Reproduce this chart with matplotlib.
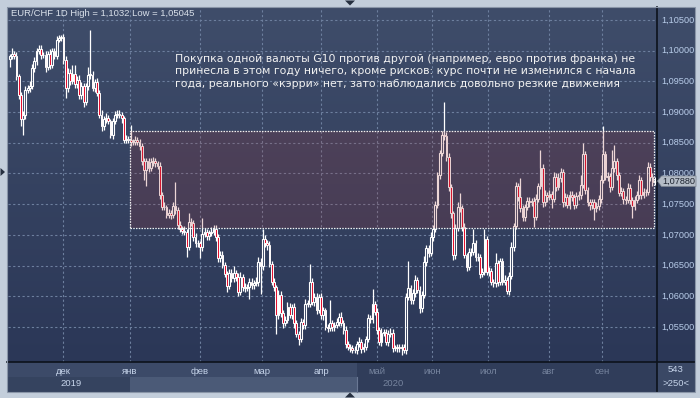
import numpy as np
import matplotlib
matplotlib.use('Agg')
import matplotlib.pyplot as plt
from matplotlib.patches import Rectangle, Polygon
from matplotlib.transforms import blended_transform_factory

W, H = 700, 398

# дневные свечи EUR/CHF (закрытия)
first_open = 1.0986
closes = [
    # ноябрь - январь
    1.0991, 1.0995, 1.0992, 1.0958, 1.0928, 1.0888, 1.0895, 1.0936, 1.0939, 1.0942,
    1.0972, 1.0983, 1.0999, 1.1002, 1.0993, 1.0993, 1.0974, 1.0995, 1.0977, 1.0999,
    1.0992, 1.1018, 1.1021, 1.1022, 1.0985, 1.0939, 1.0964, 1.0951, 1.0962, 1.0945,
    1.0953, 1.0928, 1.0942, 1.0917, 1.0942, 1.0961, 1.0961, 1.0939, 1.0949,
    1.0931, 1.0896, 1.0877, 1.0888, 1.0890, 1.0885, 1.0863, 1.0885,
    1.0896, 1.0897, 1.0895, 1.0890, 1.0855, 1.0857, 1.0854, 1.0851, 1.0852,
    1.0855, 1.0851, 1.0844, 1.0821, 1.0805, 1.0820, 1.0809, 1.0819, 1.0821, 1.0817,
    1.0812, 1.0765, 1.0746, 1.0745, 1.0733, 1.0736, 1.0732,
    # январь - апрель
    1.0747, 1.0740, 1.0716, 1.0709, 1.0707, 1.0705, 1.0681, 1.0721, 1.0720, 1.0697,
    1.0686, 1.0686, 1.0680, 1.0702, 1.0705, 1.0698, 1.0703, 1.0705, 1.0710, 1.0697,
    1.0662, 1.0668, 1.0651, 1.0637, 1.0617, 1.0638, 1.0629, 1.0638, 1.0632, 1.0607,
    1.0632, 1.0615, 1.0614, 1.0615, 1.0624, 1.0618, 1.0622, 1.0624, 1.0656, 1.0649,
    1.0694, 1.0686, 1.0683, 1.0653, 1.0624, 1.0615, 1.0569, 1.0602, 1.0572, 1.0556,
    1.0562, 1.0583, 1.0569, 1.0583, 1.0556, 1.0539, 1.0531, 1.0558, 1.0553, 1.0588,
    1.0588, 1.0624, 1.0591, 1.0599, 1.0577, 1.0599, 1.0569, 1.0577, 1.0550,
    # апрель - июль
    1.0548, 1.0556, 1.0550, 1.0553, 1.0558, 1.0567, 1.0556, 1.0545, 1.0523, 1.0518,
    1.0515, 1.0513, 1.0512, 1.0523, 1.0526, 1.0514, 1.0518, 1.0531, 1.0564, 1.0563,
    1.0588, 1.0575, 1.0545, 1.0526, 1.0541, 1.0541, 1.0525, 1.0539, 1.0541, 1.0516,
    1.0516, 1.0517, 1.0516, 1.0518, 1.0512, 1.0599, 1.0613, 1.0594, 1.0605, 1.0626,
    1.0610, 1.0581, 1.0602, 1.0656, 1.0678, 1.0670, 1.0697, 1.0710, 1.0748, 1.0797,
    1.0833, 1.0863, 1.0861, 1.0827, 1.0778, 1.0735, 1.0667, 1.0711, 1.0746, 1.0744,
    1.0713, 1.0667, 1.0648, 1.0672, 1.0672, 1.0686, 1.0664, 1.0664, 1.0637, 1.0640,
    1.0694, 1.0640, 1.0641, 1.0624, 1.0621,
    # июль - сентябрь
    1.0654, 1.0624, 1.0657, 1.0624, 1.0627, 1.0608, 1.0633, 1.0681, 1.0714, 1.0779,
    1.0762, 1.0743, 1.0729, 1.0746, 1.0755, 1.0753, 1.0755, 1.0729, 1.0759, 1.0780,
    1.0809, 1.0753, 1.0765, 1.0762, 1.0767, 1.0759, 1.0795, 1.0778, 1.0792, 1.0803,
    1.0753, 1.0762, 1.0748, 1.0765, 1.0762, 1.0748, 1.0764, 1.0765, 1.0781,
    1.0831, 1.0773, 1.0754, 1.0748, 1.0753, 1.0743, 1.0747, 1.0759, 1.0789,
    1.0831, 1.0795, 1.0796, 1.0778, 1.0809, 1.0820, 1.0797, 1.0769, 1.0771, 1.0758,
    1.0757, 1.0777, 1.0757, 1.0747, 1.0757, 1.0765, 1.0789, 1.0765, 1.0770,
    1.0770, 1.0811, 1.0795, 1.0786, 1.0788,
]
# тени свечей в пунктах (0,0001) выше/ниже тела
upper_wick = [
    4, 9, 5, 6, 4, 5, 6, 7, 5, 8, 6, 6, 5, 8, 7, 5, 6, 4, 7, 6,
    5, 6, 4, 3, 5, 6, 8, 6, 15, 15, 6, 8, 7, 5, 6, 13, 72, 6, 5,
    6, 5, 7, 6, 8, 5, 4, 6, 5, 7, 6, 5, 4, 6, 4, 25, 5,
    6, 4, 5, 6, 4, 6, 5, 7, 6, 5, 4, 6, 5, 7, 4, 6, 5,
    6, 39, 5, 6, 5, 7, 5, 15, 6, 5, 6, 5, 4, 26, 6, 5, 5, 8, 6, 6,
    5, 5, 6, 5, 4, 6, 6, 11, 5, 6, 7, 5, 6, 5, 6, 5, 5, 7, 8, 6,
    15, 6, 5, 7, 5, 6, 4, 8, 6, 5, 6, 7, 6, 5, 6, 5, 4, 7, 5, 8,
    6, 29, 5, 7, 6, 5, 6, 5, 4,
    5, 38, 5, 5, 6, 5, 7, 5, 6, 4, 5, 6, 6, 5, 7, 5, 6, 5, 7, 6,
    24, 5, 6, 5, 7, 6, 5, 6, 7, 5, 4, 5, 6, 5, 4, 6, 45, 6, 7, 8,
    5, 6, 7, 10, 6, 5, 8, 6, 7, 6, 5, 6, 53, 6, 6, 5, 4, 6, 7, 22,
    5, 6, 4, 6, 7, 24, 5, 6, 5, 6, 16, 5, 6, 5, 4,
    17, 5, 6, 5, 7, 4, 6, 8, 6, 7,
    5, 30, 6, 5, 7, 6, 5, 6, 7, 5, 29, 6, 8, 5, 6, 5, 7, 6, 8, 6,
    5, 7, 5, 7, 6, 5, 6, 7, 16, 18, 6, 5, 5, 6, 5, 7, 6, 8,
    47, 6, 7, 5, 29, 26, 6, 5, 7, 6, 5, 8, 6, 5, 7, 6, 8, 5, 7,
    5, 8, 6, 5, 6,
]
lower_wick = [
    13, 5, 6, 5, 7, 11, 25, 6, 5, 7, 5, 6, 7, 5, 6, 5, 8, 6, 7, 5,
    6, 5, 4, 5, 6, 16, 6, 7, 5, 6, 5, 7, 6, 8, 5, 6, 7, 5, 7,
    5, 6, 8, 6, 6, 5, 5, 6, 5, 6, 5, 7, 5, 6, 5, 6, 5,
    6, 4, 5, 7, 15, 25, 6, 5, 7, 6, 5, 7, 6, 5, 6, 5, 6,
    5, 6, 7, 5, 6, 5, 17, 6, 5, 7, 6, 5, 17, 6, 5, 6, 6, 5, 5, 7,
    6, 6, 5, 6, 10, 5, 5, 6, 7, 6, 5, 6, 7, 5, 20, 6, 6, 5, 7, 45,
    6, 5, 7, 6, 5, 7, 31, 6, 5, 7, 5, 6, 5, 6, 7, 6, 11, 5, 6, 7,
    5, 6, 5, 7, 6, 5, 6, 7, 5,
    6, 5, 7, 6, 5, 6, 5, 6, 7, 5, 6, 5, 5, 6, 5, 7, 5, 6, 5, 7,
    6, 5, 6, 5, 7, 6, 5, 6, 5, 6, 5, 7, 6, 11, 5, 6, 5, 7, 6, 6,
    5, 8, 6, 5, 7, 6, 5, 7, 6, 5, 6, 5, 7, 6, 6, 7, 8, 6, 5, 7,
    6, 5, 7, 5, 6, 5, 7, 6, 8, 6, 5, 6, 7, 5, 6,
    6, 7, 5, 6, 5, 5, 6, 5, 7, 5,
    6, 5, 7, 6, 5, 7, 6, 16, 5, 6, 5, 7, 6, 8, 5, 16, 6, 7, 5, 6,
    7, 6, 5, 6, 7, 6, 5, 7, 6, 5, 6, 7, 8, 6, 18, 5, 6, 7,
    5, 6, 7, 8, 5, 6, 7, 5, 6, 8, 6, 5, 7, 19, 6, 5, 7, 6, 5,
    6, 5, 7, 6, 5,
]

month_labels = ['дек', 'янв', 'фев', 'мар', 'апр', 'май', 'июн', 'июл', 'авг', 'сен']
month_pos = [23.8, 53.7, 85.0, 112.7, 139.0, 164.0, 188.6, 213.6, 240.8, 264.5]
year_labels = ['2019', '2020']
year_pos = [27.4, 171.1]
price_ticks = [1.055, 1.060, 1.065, 1.070, 1.075, 1.080, 1.085, 1.090, 1.095, 1.100, 1.105]
box_low, box_high = 1.0711, 1.0869
box_start = 53.7
last_price = 1.0788
title = 'EUR/CHF 1D High = 1,1032 Low = 1,05045'
note = ('Покупка одной валюты G10 против другой (например, евро против франка) не\n'
        'принесла в этом году ничего, кроме рисков: курс почти не изменился с начала\n'
        'года, реального «кэрри» нет, зато наблюдались довольно резкие движения')


def fx(x):
    return x / W


def fy(y):
    return 1 - y / H


def frect(x0, y0, x1, y1):
    return [fx(x0), fy(y1), (x1 - x0) / W, (y1 - y0) / H]


def panel(x0, y0, x1, y1, color):
    fig.add_artist(Rectangle((fx(x0), fy(y1)), (x1 - x0) / W, (y1 - y0) / H,
                             transform=fig.transFigure, facecolor=color, edgecolor='none',
                             zorder=0.2))


fig = plt.figure(figsize=(W / 100, H / 100), dpi=100, facecolor='#c3cedb')

# фон-градиент панели графика
bg = fig.add_axes(frect(7, 7, 695, 362))
bg.set_zorder(0.1)
bg.axis('off')
top_c = np.array([63, 77, 106]) / 255
bot_c = np.array([43, 55, 87]) / 255
t = np.linspace(0, 1, 256)[:, None]
grad = (top_c[None, :] * (1 - t) + bot_c[None, :] * t)[:, None, :]
bg.imshow(grad, aspect='auto', extent=[0, 1, 0, 1])
bg.set_xlim(0, 1)
bg.set_ylim(0, 1)

# нижняя панель с месяцами
panel(7, 362, 657, 392, '#3c4a68')
panel(7, 377, 130, 392, '#35435f')
panel(130, 377, 357, 392, '#4b5a77')
panel(357, 362, 657, 392, '#303d5a')
panel(657, 362, 695, 392, '#3a4865')

ax = fig.add_axes(frect(8, 8, 657, 362))
ax.set_zorder(1)
ax.patch.set_alpha(0)
n = len(closes)
step = (654.7 - 9.7) / (n - 1)
ax.set_xlim(-(9.7 - 8) / step, (657 - 9.7) / step)
ax.set_ylim(1.105 - (362 - 20) / 6140, 1.105 + (20 - 8) / 6140)
for s in ax.spines.values():
    s.set_visible(False)
ax.set_xticks([])
ax.set_yticks([])

grid_kw = dict(color='#6d7f9e', lw=0.8, ls=(0, (2, 2.2)), zorder=1)
for p in price_ticks:
    ax.axhline(p, **grid_kw)
for m in month_pos:
    ax.axvline(m, **grid_kw)

# свечи
x = np.arange(n)
c = np.array(closes)
o = np.r_[first_open, c[:-1]]
top = np.maximum(o, c)
bot = np.minimum(o, c)
highs = top + np.array(upper_wick) * 1e-4
lows = bot - np.array(lower_wick) * 1e-4
up = c >= o
ax.vlines(x, top, highs, color='white', lw=0.9, zorder=3)
ax.vlines(x, lows, bot, color='white', lw=0.9, zorder=3)
hgt = np.maximum(top - bot, 0.00006)
ax.bar(x[up], hgt[up], bottom=bot[up], width=0.8, facecolor='none', edgecolor='white',
       linewidth=0.8, zorder=4)
ax.bar(x[~up], hgt[~up], bottom=bot[~up], width=0.8, facecolor='#e3102f', edgecolor='white',
       linewidth=0.7, zorder=4)

# выделенный диапазон
box_end = n - 1.1
ax.add_patch(Rectangle((box_start, box_low), box_end - box_start, box_high - box_low,
                       facecolor=(0.63, 0.2, 0.2, 0.2), edgecolor='none', zorder=5))
ax.add_patch(Rectangle((box_start, box_low), box_end - box_start, box_high - box_low,
                       facecolor='none', edgecolor='#f0f0f0', lw=0.9, ls=(0, (1.2, 1)), zorder=6))

# разделители панелей
fig.add_artist(plt.Line2D([fx(657), fx(657)], [fy(7), fy(392)], color='#0c121c', lw=1.2, zorder=2))
fig.add_artist(plt.Line2D([fx(7), fx(695)], [fy(362), fy(362)], color='#0c121c', lw=1.2, zorder=2))
fig.add_artist(Rectangle((fx(7), fy(392)), 688 / W, 385 / H, transform=fig.transFigure,
                         facecolor='none', edgecolor='#8a96a8', lw=0.8, zorder=2))
fig.add_artist(plt.Line2D([fx(357), fx(357)], [fy(377), fy(392)], color='#6a7894', lw=0.8, zorder=2))

# правая шкала
tr_r = blended_transform_factory(fig.transFigure, ax.transData)
for p in price_ticks:
    ax.text(fx(661), p, f'{p:.5f}'.replace('.', ','), transform=tr_r, va='center', ha='left',
            fontsize=6.6, family='Liberation Sans', color='#b9cdea', clip_on=False)

# метка последней цены
ly = fy(181)
tag = Polygon([(fx(657.5), ly), (fx(661.5), fy(176)), (fx(696), fy(176)), (fx(696), fy(186.5)),
               (fx(661.5), fy(186.5))], closed=True, transform=fig.transFigure,
              facecolor='#b4bcc6', edgecolor='#7c8590', lw=0.5, zorder=3)
fig.add_artist(tag)
fig.text(fx(678.5), fy(181.3), f'{last_price:.5f}'.replace('.', ','), ha='center', va='center',
         fontsize=6.6, family='Liberation Sans', color='#1e2430', zorder=4)

# подписи месяцев и лет
tr_b = blended_transform_factory(ax.transData, fig.transFigure)
for i, (m, lab) in enumerate(zip(month_pos, month_labels)):
    col = '#c6d4ea' if i < 5 else '#76849e'
    ax.text(m, fy(371), lab, transform=tr_b, ha='center', va='center', fontsize=6.8,
            family='Liberation Sans', color=col, clip_on=False)
for k, (yp, lab) in enumerate(zip(year_pos, year_labels)):
    col = '#c6d4ea' if k == 0 else '#76849e'
    ax.text(yp, fy(384), lab, transform=tr_b, ha='center', va='center', fontsize=6.8,
            family='Liberation Sans', color=col, clip_on=False)

fig.text(fx(676), fy(370), '543', ha='center', va='center', fontsize=6.8,
         family='Liberation Sans', color='#c6d4ea', zorder=4)
fig.text(fx(676), fy(384), '>250<', ha='center', va='center', fontsize=6.8,
         family='Liberation Sans', color='#c6d4ea', zorder=4)

# заголовок и комментарий
fig.text(fx(11), fy(9.5), title, ha='left', va='top', fontsize=6.8, family='Liberation Sans',
         color='#d9e0ea', zorder=4)
fig.text(fx(175), fy(53.5), note, ha='left', va='top', fontsize=7.85, family='DejaVu Sans',
         color='#f2f2f2', linespacing=1.33, zorder=4)

# маленькие треугольники по краям
tri_kw = dict(closed=True, transform=fig.transFigure, facecolor='#263040', edgecolor='none',
              zorder=4)
fig.add_artist(Polygon([(fx(345), fy(0.5)), (fx(355), fy(0.5)), (fx(350), fy(5.5))], **tri_kw))
fig.add_artist(Polygon([(fx(345), fy(397.5)), (fx(355), fy(397.5)), (fx(350), fy(392.5))], **tri_kw))
fig.add_artist(Polygon([(fx(0.5), fy(168)), (fx(0.5), fy(176)), (fx(5), fy(172))], **tri_kw))

fig.savefig('out.png', dpi=100, facecolor=fig.get_facecolor())
